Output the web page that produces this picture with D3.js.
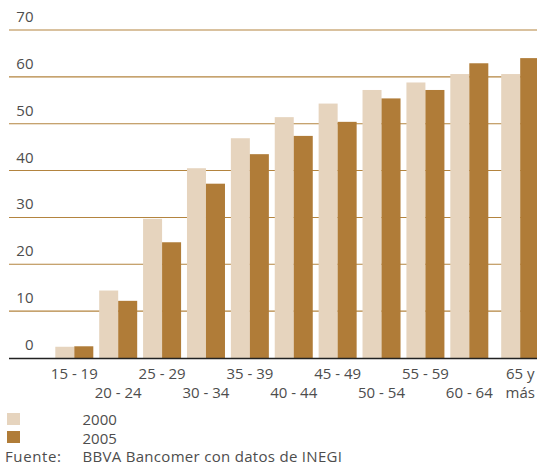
<!DOCTYPE html>
<html>
<head>
<meta charset="utf-8">
<script src="https://cdn.jsdelivr.net/npm/d3@7"></script>
<style>
  html, body { margin: 0; padding: 0; background: #fff; }
  svg { display: block; }
  text { font-family: "Open Sans", "Liberation Sans", sans-serif; fill: #4d4d4d; }
</style>
</head>
<body>
<svg id="chart" width="537" height="465"></svg>
<script>
// ---- data ----
const categories = ["15 - 19", "20 - 24", "25 - 29", "30 - 34", "35 - 39", "40 - 44",
                    "45 - 49", "50 - 54", "55 - 59", "60 - 64", "65 y\nmás"];
const seriesNames = ["2000", "2005"];
const values2000 = [2.4, 14.4, 29.7, 40.5, 46.9, 51.4, 54.3, 57.2, 58.8, 60.6, 60.6];
const values2005 = [2.5, 12.2, 24.7, 37.2, 43.5, 47.4, 50.4, 55.4, 57.2, 62.9, 64.0];
const yTicks = [0, 10, 20, 30, 40, 50, 60, 70];
const sourceLabel = "Fuente:";
const sourceText = "BBVA Bancomer con datos de INEGI";

const colors = { "2000": "#e6d4be", "2005": "#b07c38" };
const gridColor = "#b3843f";

const svg = d3.select("#chart");
const W = 537, H = 465;
svg.append("rect").attr("width", W).attr("height", H).attr("fill", "#fff");

// ---- scales ----
const y = d3.scaleLinear().domain([0, 70]).range([358, 30]);
const x = d3.scaleBand().domain(categories).range([55.3, 532.2])
  .paddingInner(0.134).paddingOuter(0);
const lastGap = 7; // the last group sits a little further to the right
const gx = c => x(c) + (c === categories[categories.length - 1] ? lastGap : 0);
const xs = d3.scaleBand().domain(seriesNames).range([0, x.bandwidth()]).padding(0);

// ---- gridlines ----
const grid = svg.append("g");
grid.selectAll("line").data(yTicks.filter(d => d > 0)).join("line")
  .attr("x1", 9).attr("x2", W)
  .attr("y1", d => y(d)).attr("y2", d => y(d))
  .attr("stroke", gridColor).attr("stroke-width", 1.1);

// y labels
svg.append("g").selectAll("text").data(yTicks).join("text")
  .attr("x", 33.5).attr("y", d => y(d) - 8)
  .attr("text-anchor", "end")
  .attr("font-size", 15)
  .text(d => d);

// ---- bars ----
const rows = categories.map((c, i) => ({ c, v: { "2000": values2000[i], "2005": values2005[i] } }));
const groups = svg.append("g").selectAll("g").data(rows).join("g")
  .attr("transform", d => `translate(${gx(d.c)},0)`);
groups.selectAll("rect").data(d => seriesNames.map(s => ({ s, v: d.v[s] }))).join("rect")
  .attr("x", d => xs(d.s))
  .attr("width", xs.bandwidth())
  .attr("y", d => y(d.v))
  .attr("height", d => y(0) - y(d.v))
  .attr("fill", d => colors[d.s]);

// baseline
svg.append("line").attr("x1", 9).attr("x2", W)
  .attr("y1", y(0) + 0.5).attr("y2", y(0) + 0.5)
  .attr("stroke", "#222").attr("stroke-width", 1.3);

// ---- x labels (staggered in two rows) ----
const rowY = [379, 398];
const xl = svg.append("g");
categories.forEach((c, i) => {
  const lines = c.split("\n");
  lines.forEach((ln, k) => {
    xl.append("text")
      .attr("x", gx(c) + x.bandwidth() / 2)
      .attr("y", rowY[(i % 2) + k])
      .attr("text-anchor", "middle")
      .attr("font-size", 15)
      .text(ln);
  });
});

// ---- legend ----
const leg = svg.append("g");
seriesNames.forEach((s, i) => {
  leg.append("rect").attr("x", 7).attr("y", 413 + i * 18)
    .attr("width", 13).attr("height", 12).attr("fill", colors[s]);
  leg.append("text").attr("x", 82.5).attr("y", 425 + i * 18.5)
    .attr("font-size", 15).text(s);
});
leg.append("text").attr("x", 5).attr("y", 462).attr("font-size", 15)
  .attr("letter-spacing", 0.6).text(sourceLabel);
leg.append("text").attr("x", 82.5).attr("y", 462).attr("font-size", 15)
  .attr("letter-spacing", 0.3).text(sourceText);
</script>
</body>
</html>
